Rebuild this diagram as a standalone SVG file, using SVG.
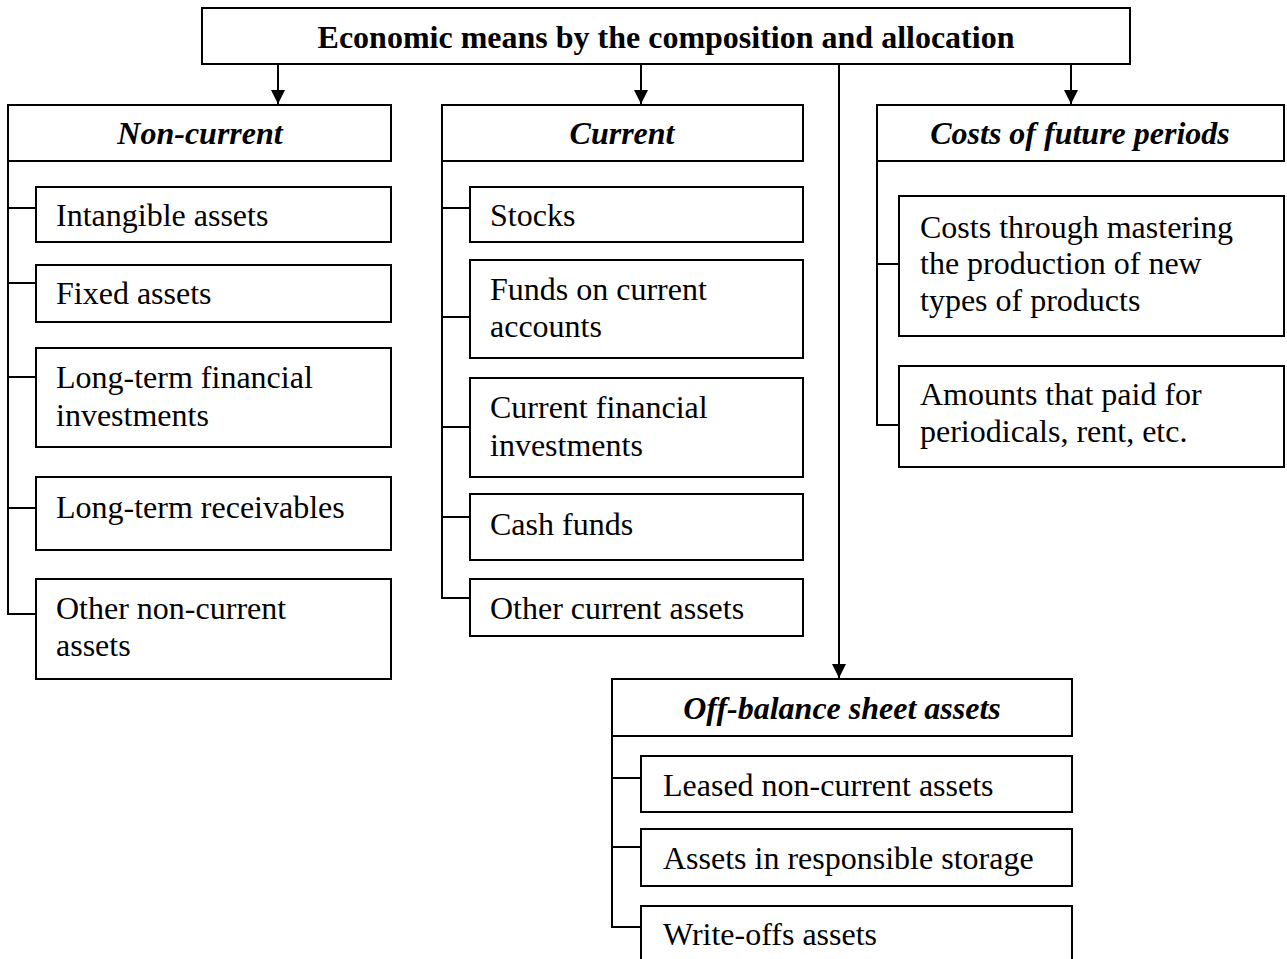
<svg xmlns="http://www.w3.org/2000/svg" width="1287" height="959" viewBox="0 0 1287 959">
  <style>
    .box { fill: #fff; stroke: #000; stroke-width: 2; }
    .ln { fill: none; stroke: #000; stroke-width: 2; }
    text { font-family: "Liberation Serif", "Times New Roman", serif; font-size: 32px; fill: #000; }
    .title { font-weight: bold; text-anchor: middle; }
    .head { font-weight: bold; font-style: italic; text-anchor: middle; }
  </style>
  <defs>
    <marker id="arrow" viewBox="0 0 14 15" refX="14" refY="7" markerWidth="14" markerHeight="15" markerUnits="userSpaceOnUse" orient="auto">
      <path d="M0,0 L14,7 L0,14 Z" fill="#000"/>
    </marker>
  </defs>

  <rect width="1287" height="959" fill="#fff"/>

  <!-- connectors -->
  <g id="connectors" class="ln">
    <line x1="278" y1="64" x2="278" y2="104" marker-end="url(#arrow)"/>
    <line x1="641" y1="64" x2="641" y2="104" marker-end="url(#arrow)"/>
    <line x1="1071" y1="64" x2="1071" y2="104" marker-end="url(#arrow)"/>
    <line x1="839" y1="64" x2="839" y2="678" marker-end="url(#arrow)"/>
    <!-- non-current branch -->
    <polyline points="8,161 8,614 36,614"/>
    <line x1="8" y1="208" x2="36" y2="208"/>
    <line x1="8" y1="283" x2="36" y2="283"/>
    <line x1="8" y1="377" x2="36" y2="377"/>
    <line x1="8" y1="508" x2="36" y2="508"/>
    <!-- current branch -->
    <polyline points="442,161 442,598 470,598"/>
    <line x1="442" y1="208" x2="470" y2="208"/>
    <line x1="442" y1="317" x2="470" y2="317"/>
    <line x1="442" y1="427" x2="470" y2="427"/>
    <line x1="442" y1="517" x2="470" y2="517"/>
    <!-- future periods branch -->
    <polyline points="877,161 877,425 899,425"/>
    <line x1="877" y1="264" x2="899" y2="264"/>
    <!-- off-balance branch -->
    <polyline points="612,736 612,927 641,927"/>
    <line x1="612" y1="778" x2="641" y2="778"/>
    <line x1="612" y1="847" x2="641" y2="847"/>
  </g>

  <g id="root">
    <rect class="box" x="202" y="8" width="928" height="56"/>
    <text class="title" x="666" y="48">Economic means by the composition and allocation</text>
  </g>

  <!-- Non-current column -->
  <g id="non-current">
    <rect class="box" x="8" y="105" width="383" height="56"/>
    <text class="head" x="200" y="144">Non-current</text>
  </g>
  <g id="intangible">
    <rect class="box" x="36" y="187" width="355" height="55"/>
    <text x="56" y="226">Intangible assets</text>
  </g>
  <g id="fixed">
    <rect class="box" x="36" y="265" width="355" height="57"/>
    <text x="56" y="304">Fixed assets</text>
  </g>
  <g id="lt-financial">
    <rect class="box" x="36" y="348" width="355" height="99"/>
    <text x="56" y="388">Long-term financial</text>
    <text x="56" y="426">investments</text>
  </g>
  <g id="lt-receivables">
    <rect class="box" x="36" y="477" width="355" height="73"/>
    <text x="56" y="518">Long-term receivables</text>
  </g>
  <g id="other-non-current">
    <rect class="box" x="36" y="579" width="355" height="100"/>
    <text x="56" y="619">Other non-current</text>
    <text x="56" y="656">assets</text>
  </g>

  <!-- Current column -->
  <g id="current">
    <rect class="box" x="442" y="105" width="361" height="56"/>
    <text class="head" x="622" y="144">Current</text>
  </g>
  <g id="stocks">
    <rect class="box" x="470" y="187" width="333" height="55"/>
    <text x="490" y="226">Stocks</text>
  </g>
  <g id="funds-accounts">
    <rect class="box" x="470" y="260" width="333" height="98"/>
    <text x="490" y="300">Funds on current</text>
    <text x="490" y="337">accounts</text>
  </g>
  <g id="current-financial">
    <rect class="box" x="470" y="378" width="333" height="99"/>
    <text x="490" y="418">Current financial</text>
    <text x="490" y="456">investments</text>
  </g>
  <g id="cash">
    <rect class="box" x="470" y="494" width="333" height="66"/>
    <text x="490" y="535">Cash funds</text>
  </g>
  <g id="other-current">
    <rect class="box" x="470" y="579" width="333" height="57"/>
    <text x="490" y="619">Other current assets</text>
  </g>

  <!-- Costs of future periods column -->
  <g id="future-costs">
    <rect class="box" x="877" y="105" width="407" height="56"/>
    <text class="head" x="1080" y="144">Costs of future periods</text>
  </g>
  <g id="mastering">
    <rect class="box" x="899" y="196" width="385" height="140"/>
    <text x="920" y="238">Costs through mastering</text>
    <text x="920" y="274">the production of new</text>
    <text x="920" y="311">types of products</text>
  </g>
  <g id="periodicals">
    <rect class="box" x="899" y="366" width="385" height="101"/>
    <text x="920" y="405">Amounts that paid for</text>
    <text x="920" y="442">periodicals, rent, etc.</text>
  </g>

  <!-- Off-balance sheet column -->
  <g id="off-balance">
    <rect class="box" x="612" y="679" width="460" height="57"/>
    <text class="head" x="842" y="719">Off-balance sheet assets</text>
  </g>
  <g id="leased">
    <rect class="box" x="641" y="756" width="431" height="56"/>
    <text x="663" y="796">Leased non-current assets</text>
  </g>
  <g id="storage">
    <rect class="box" x="641" y="829" width="431" height="57"/>
    <text x="663" y="869">Assets in responsible storage</text>
  </g>
  <g id="write-offs">
    <rect class="box" x="641" y="906" width="431" height="70"/>
    <text x="663" y="945">Write-offs assets</text>
  </g>
</svg>
